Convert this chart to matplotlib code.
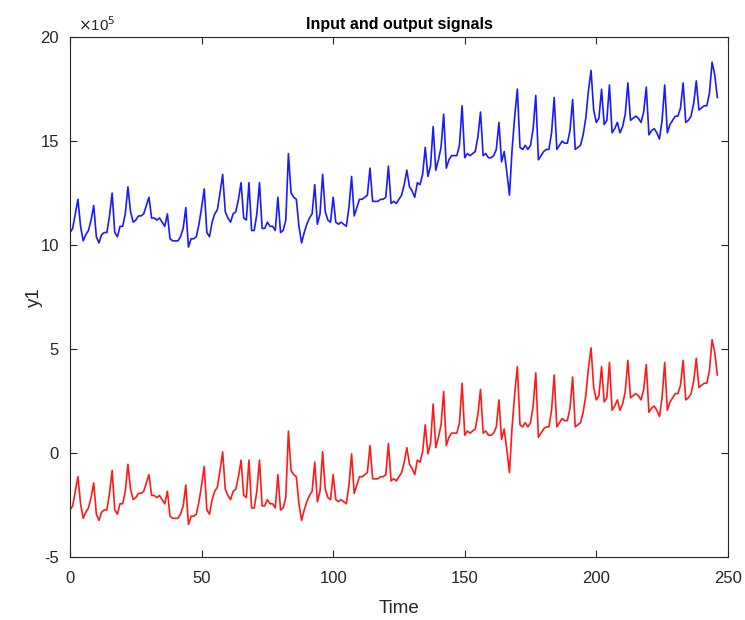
import numpy as np
import matplotlib
matplotlib.use("Agg")
import matplotlib.pyplot as plt

# values in units of 1e5
input_e5 = [
    10.6, 10.8, 11.5, 12.2, 10.9, 10.2, 10.5, 10.7, 11.2, 11.9,
    10.4, 10.1, 10.5, 10.6, 10.6, 11.4, 12.5, 10.6, 10.4, 10.9,
    10.9, 11.5, 12.8, 11.6, 11.1, 11.2, 11.4, 11.4, 11.5, 11.9,
    12.3, 11.3, 11.3, 11.2, 11.3, 11.1, 10.9, 11.5, 10.3, 10.2,
    10.2, 10.2, 10.4, 10.8, 11.8, 9.9, 10.3, 10.3, 10.4, 11.0,
    11.8, 12.7, 10.6, 10.4, 11.1, 11.5, 11.7, 12.5, 13.4, 11.6,
    11.3, 11.1, 11.5, 11.6, 12.2, 13.0, 11.3, 11.2, 13.0, 10.7,
    10.7, 11.5, 13.0, 10.8, 10.8, 11.1, 10.9, 10.9, 10.7, 12.3,
    10.6, 10.7, 11.2, 14.4, 12.5, 12.3, 12.2, 10.9, 10.1, 10.6,
    11.0, 11.3, 11.5, 12.9, 11.0, 11.5, 13.4, 11.6, 11.2, 11.1,
    12.3, 11.1, 11.0, 11.1, 11.0, 10.9, 11.8, 13.3, 11.4, 11.8,
    12.2, 12.2, 12.3, 12.4, 13.7, 12.1, 12.1, 12.1, 12.2, 12.2,
    12.3, 13.8, 12.0, 12.1, 12.0, 12.2, 12.4, 12.9, 13.6, 12.8,
    12.6, 12.3, 13.0, 12.9, 13.4, 14.7, 13.3, 13.8, 15.7, 13.6,
    14.1, 14.7, 16.3, 13.7, 14.1, 14.3, 14.3, 14.3, 14.8, 16.7,
    14.2, 14.4, 14.3, 14.4, 14.5, 15.2, 16.4, 14.3, 14.4, 14.2,
    14.2, 14.3, 14.6, 15.9, 14.0, 14.5, 13.5, 12.4, 14.6, 16.2,
    17.5, 14.7, 14.6, 14.8, 14.6, 14.8, 15.6, 17.2, 14.1, 14.3,
    14.5, 14.6, 14.6, 15.4, 17.1, 14.6, 14.8, 15.0, 14.9, 14.9,
    15.5, 17.0, 14.6, 14.7, 14.8, 15.3, 16.1, 17.4, 18.4, 16.5,
    15.9, 16.1, 17.5, 15.8, 16.0, 17.7, 15.4, 15.6, 15.9, 15.4,
    15.7, 16.3, 17.8, 16.0, 16.1, 16.2, 16.1, 15.9, 16.4, 17.6,
    15.3, 15.5, 15.6, 15.4, 15.1, 16.0, 17.7, 15.4, 15.8, 16.0,
    16.2, 16.2, 16.6, 17.8, 15.9, 16.0, 16.2, 16.8, 17.9, 16.5,
    16.6, 16.7, 16.7, 17.3, 18.8, 18.2, 17.1,
]

output_e5 = [
    -2.75, -2.55, -1.85, -1.15, -2.45, -3.15, -2.85, -2.65, -2.15, -1.45,
    -2.95, -3.25, -2.85, -2.75, -2.75, -1.95, -0.85, -2.75, -2.95, -2.45,
    -2.45, -1.85, -0.55, -1.75, -2.25, -2.15, -1.95, -1.95, -1.85, -1.45,
    -1.05, -2.05, -2.05, -2.15, -2.05, -2.25, -2.45, -1.85, -3.05, -3.15,
    -3.15, -3.15, -2.95, -2.55, -1.55, -3.45, -3.05, -3.05, -2.95, -2.35,
    -1.55, -0.65, -2.75, -2.95, -2.25, -1.85, -1.65, -0.85, 0.05, -1.75,
    -2.05, -2.25, -1.85, -1.75, -1.15, -0.35, -2.05, -2.15, -0.35, -2.65,
    -2.65, -1.85, -0.35, -2.55, -2.55, -2.25, -2.45, -2.45, -2.65, -1.05,
    -2.75, -2.65, -2.15, 1.05, -0.85, -1.05, -1.15, -2.45, -3.25, -2.75,
    -2.35, -2.05, -1.85, -0.45, -2.35, -1.85, 0.05, -1.75, -2.15, -2.25,
    -1.05, -2.25, -2.35, -2.25, -2.35, -2.45, -1.55, -0.05, -1.95, -1.55,
    -1.15, -1.15, -1.05, -0.95, 0.35, -1.25, -1.25, -1.25, -1.15, -1.15,
    -1.05, 0.45, -1.35, -1.25, -1.35, -1.15, -0.95, -0.45, 0.25, -0.55,
    -0.75, -1.05, -0.35, -0.45, 0.05, 1.35, -0.05, 0.45, 2.35, 0.25,
    0.75, 1.35, 2.95, 0.35, 0.75, 0.95, 0.95, 0.95, 1.45, 3.35,
    0.85, 1.05, 0.95, 1.05, 1.15, 1.85, 3.05, 0.95, 1.05, 0.85,
    0.85, 0.95, 1.25, 2.55, 0.65, 1.15, 0.15, -0.95, 1.25, 2.85,
    4.15, 1.35, 1.25, 1.45, 1.25, 1.45, 2.25, 3.85, 0.75, 0.95,
    1.15, 1.25, 1.25, 2.05, 3.75, 1.25, 1.45, 1.65, 1.55, 1.55,
    2.15, 3.65, 1.25, 1.35, 1.45, 1.95, 2.75, 4.05, 5.05, 3.15,
    2.55, 2.75, 4.15, 2.45, 2.65, 4.35, 2.05, 2.25, 2.55, 2.05,
    2.35, 2.95, 4.45, 2.65, 2.75, 2.85, 2.75, 2.55, 3.05, 4.25,
    1.95, 2.15, 2.25, 2.05, 1.75, 2.65, 4.35, 2.05, 2.45, 2.65,
    2.85, 2.85, 3.25, 4.45, 2.55, 2.65, 2.85, 3.45, 4.55, 3.15,
    3.25, 3.35, 3.35, 3.95, 5.45, 4.85, 3.75,
]

time = np.arange(len(input_e5))

plt.rcParams['font.family'] = ['Liberation Sans', 'DejaVu Sans']
plt.rcParams['axes.unicode_minus'] = False

fig = plt.figure(figsize=(7.45, 6.2), dpi=100)
ax = fig.add_axes([0.094, 0.102, 0.883, 0.838])

ax.plot(time, input_e5, color='#1a1aff', linewidth=1.2)
ax.plot(time, output_e5, color='#ff1a1a', linewidth=1.2)

ax.set_xlim(0, 250)
ax.set_ylim(-5, 20)
ax.set_xticks([0, 50, 100, 150, 200, 250])
ax.set_yticks([-5, 0, 5, 10, 15, 20])

dark = '#262626'
for s in ax.spines.values():
    s.set_color(dark)
    s.set_linewidth(0.8)
ax.tick_params(direction='in', top=True, right=True, length=5,
               colors=dark, labelsize=12, labelcolor=dark)
ax.tick_params(axis='x', pad=10)
ax.tick_params(axis='y', pad=8)

ax.set_title("Input and output signals", fontsize=11.5, fontweight='bold',
             color='black', pad=6)
ax.set_xlabel("Time", fontsize=13.5, color=dark, labelpad=10)
ax.set_ylabel("y1", fontsize=13.5, color=dark, labelpad=-2)
ax.text(0.012, 1.006, r"$\times$10$^{5}$", transform=ax.transAxes,
        fontsize=11, color=dark, ha='left', va='bottom')

fig.savefig("out.png", dpi=100)
